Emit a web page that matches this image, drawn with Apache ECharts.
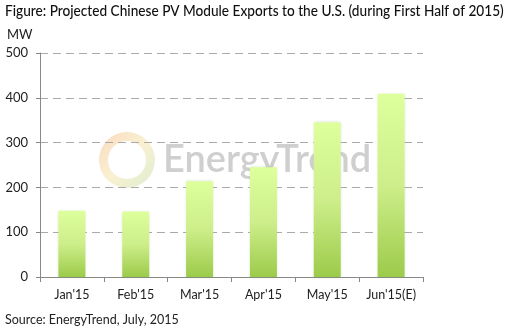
<!DOCTYPE html>
<html><head><meta charset="utf-8">
<script src="https://cdn.jsdelivr.net/npm/echarts@6/dist/echarts.min.js"></script>
<style>html,body{margin:0;padding:0;background:#fff}#c{width:514px;height:330px}</style>
</head><body><div id="c"></div>
<script>
var categories = ["Jan'15", "Feb'15", "Mar'15", "Apr'15", "May'15", "Jun'15(E)"];
var exportsMW = [148, 146, 214, 245, 345, 409];
var titleText = "Figure: Projected Chinese PV Module Exports to the U.S. (during First Half of 2015)";
var sourceText = "Source: EnergyTrend, July, 2015";
var unitText = "MW";

var chart = echarts.init(document.getElementById('c'));
var font = "Lato";
chart.setOption({
  animation: false,
  backgroundColor: '#fff',
  grid: {left: 40, right: 91, top: 53, bottom: 53},
  graphic: [
    {type: 'text', x: 5, y: 4, scaleX: 0.91, silent: true,
      style: {text: titleText, font: '500 15px ' + font, fill: '#111'}},
    {type: 'text', left: 7, top: 28, style: {text: unitText, font: '13px ' + font, fill: '#222'}},
    {type: 'text', left: 5, top: 313, style: {text: sourceText, font: '12.5px ' + font, fill: '#222'}},
    {type: 'ring', shape: {cx: 127, cy: 160, r: 28, r0: 19}, z: 0, silent: true,
      style: {fill: new echarts.graphic.LinearGradient(0, 0, 1, 1, [
        {offset: 0, color: 'rgba(245,160,100,0.4)'},
        {offset: 0.5, color: 'rgba(240,220,140,0.4)'},
        {offset: 1, color: 'rgba(170,210,140,0.4)'}])}},
    {type: 'text', x: 163, y: 141, z: 0, silent: true,
      style: {text: 'EnergyTrend', font: '600 38px ' + font, fill: 'rgba(195,195,195,0.8)'}}
  ],
  xAxis: {type: 'category', data: categories,
    axisLine: {lineStyle: {color: '#888'}},
    axisTick: {show: true, length: 5, lineStyle: {color: '#888'}},
    axisLabel: {interval: 0, fontFamily: font, fontSize: 12.5, color: '#222', margin: 11}},
  yAxis: {type: 'value', min: 0, max: 500, interval: 100,
    axisLine: {show: true, lineStyle: {color: '#888'}},
    axisTick: {show: true, length: 4, lineStyle: {color: '#888'}},
    axisLabel: {fontFamily: font, fontSize: 13, color: '#222', margin: 12},
    splitLine: {lineStyle: {color: '#aaa', type: [8, 5]}}},
  series: [{type: 'bar', data: exportsMW, barWidth: 27, z: 3,
    itemStyle: {
      color: new echarts.graphic.LinearGradient(0, 0, 0, 1, [
        {offset: 0, color: '#ddff9c'},
        {offset: 0.5, color: '#cdee8a'},
        {offset: 1, color: '#9ccb4a'}]),
      shadowBlur: 3, shadowColor: 'rgba(120,150,60,0.25)'}}]
});
</script></body></html>
